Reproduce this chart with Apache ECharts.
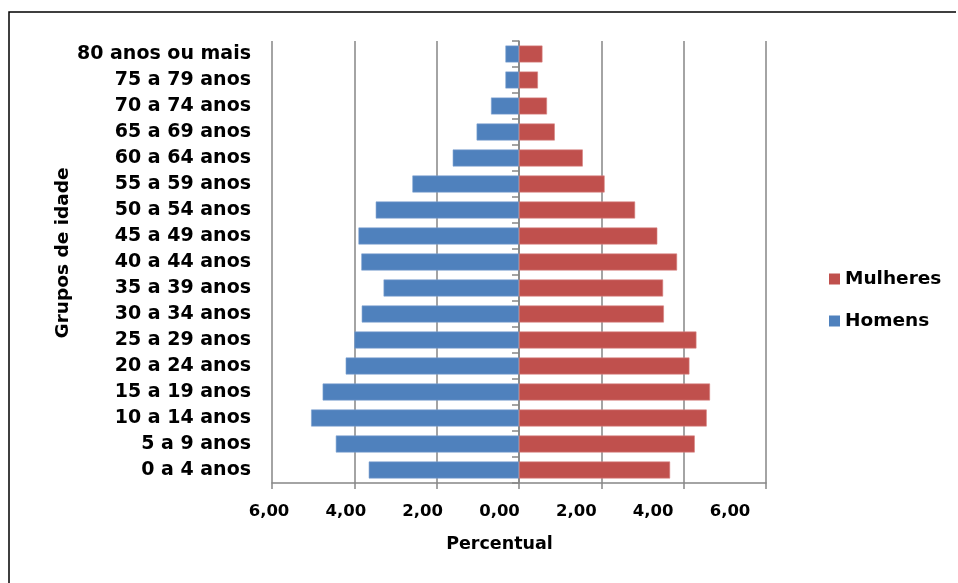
<!DOCTYPE html>
<html>
<head>
<meta charset="utf-8">
<script src="https://cdn.jsdelivr.net/npm/echarts@6/dist/echarts.min.js"></script>
<style>
  html, body { margin: 0; padding: 0; background: #fff; }
  #chart { width: 958px; height: 583px; }
</style>
</head>
<body>
<div id="chart"></div>
<script>
// Age groups, from youngest (bottom) to oldest (top)
const grupos = [
  '0 a 4 anos', '5 a 9 anos', '10 a 14 anos', '15 a 19 anos', '20 a 24 anos',
  '25 a 29 anos', '30 a 34 anos', '35 a 39 anos', '40 a 44 anos', '45 a 49 anos',
  '50 a 54 anos', '55 a 59 anos', '60 a 64 anos', '65 a 69 anos', '70 a 74 anos',
  '75 a 79 anos', '80 anos ou mais'
];
// Share of the population (%) per age group
const homens = [3.65, 4.45, 5.05, 4.77, 4.21, 4.00, 3.82, 3.29, 3.83, 3.90, 3.48, 2.59, 1.61, 1.03, 0.68, 0.33, 0.33];
const mulheres = [3.67, 4.27, 4.56, 4.64, 4.14, 4.31, 3.52, 3.50, 3.84, 3.36, 2.82, 2.08, 1.55, 0.87, 0.68, 0.46, 0.57];
// Percent axis ticks
const eixoMin = -6, eixoMax = 6, eixoPasso = 2;

const FONT = 'DejaVu Sans';
const GRAY = '#868686';
const fmt = v => Math.abs(v).toFixed(2).replace('.', ',');

const chart = echarts.init(document.getElementById('chart'), null, { renderer: 'canvas' });

chart.setOption({
  backgroundColor: '#ffffff',
  animation: false,
  grid: [
    // plot area with the bars
    { left: 272, right: 192, top: 41, bottom: 100, containLabel: false },
    // band carrying the percent tick labels and axis title
    { left: 269, width: 461, top: 41, bottom: 100, containLabel: false }
  ],
  legend: {
    data: ['Mulheres', 'Homens'],
    orient: 'vertical',
    left: 829,
    top: 269,
    padding: 0,
    itemWidth: 11,
    itemHeight: 11,
    itemGap: 22,
    icon: 'rect',
    itemStyle: { borderWidth: 0 },
    textStyle: { fontFamily: FONT, fontWeight: 'bold', fontSize: 18.5, color: '#000', lineHeight: 20 }
  },
  xAxis: [
    {
      type: 'value',
      gridIndex: 0,
      min: eixoMin,
      max: eixoMax,
      interval: eixoPasso,
      axisLine: { show: true, onZero: false, lineStyle: { color: GRAY, width: 1.5 } },
      axisTick: { show: true, length: 6, lineStyle: { color: GRAY, width: 1.5 } },
      axisLabel: { show: false },
      splitLine: { show: true, lineStyle: { color: GRAY, width: 1.5 } }
    },
    {
      type: 'value',
      gridIndex: 1,
      min: eixoMin,
      max: eixoMax,
      interval: eixoPasso,
      name: 'Percentual',
      nameLocation: 'middle',
      nameGap: 52,
      nameTextStyle: { fontFamily: FONT, fontWeight: 'bold', fontSize: 17.5, color: '#000' },
      axisLine: { show: false, onZero: false },
      axisTick: { show: false },
      axisLabel: { formatter: fmt, margin: 20, fontFamily: FONT, fontWeight: 'bold', fontSize: 16.5, color: '#000' },
      splitLine: { show: false }
    }
  ],
  yAxis: [
    {
      type: 'category',
      gridIndex: 0,
      data: grupos,
      position: 'left',
      axisLine: { show: false, onZero: false },
      axisTick: { show: false },
      axisLabel: { margin: 21, fontFamily: FONT, fontWeight: 'bold', fontSize: 19, color: '#000' }
    },
    {
      type: 'category',
      gridIndex: 0,
      data: grupos,
      position: 'left',
      axisLine: { show: true, onZero: true, lineStyle: { color: GRAY, width: 1.5 } },
      axisTick: { show: true, length: 7, inside: false, lineStyle: { color: GRAY, width: 1.5 } },
      axisLabel: { show: false }
    },
    {
      type: 'value',
      gridIndex: 1,
      show: false
    }
  ],
  graphic: [
    {
      type: 'polyline',
      shape: { points: [[9, 600], [9, 12], [956, 12]] },
      style: { fill: 'none', stroke: '#000', lineWidth: 1.5 },
      silent: true,
      z: -1
    },
    {
      type: 'text',
      x: 63,
      y: 253,
      rotation: Math.PI / 2,
      style: {
        text: 'Grupos de idade',
        fontFamily: FONT,
        fontWeight: 'bold',
        fontSize: 18.5,
        fill: '#000',
        align: 'center',
        verticalAlign: 'middle'
      }
    }
  ],
  series: [
    {
      name: 'Homens',
      type: 'bar',
      xAxisIndex: 0,
      yAxisIndex: 0,
      data: homens.map(v => -v),
      barGap: '-100%',
      barCategoryGap: '35%',
      itemStyle: { color: '#4F81BD', borderColor: '#7EA3D2', borderWidth: 0.6 },
      z: 3
    },
    {
      name: 'Mulheres',
      type: 'bar',
      xAxisIndex: 0,
      yAxisIndex: 0,
      data: mulheres,
      barGap: '-100%',
      barCategoryGap: '35%',
      itemStyle: { color: '#C0504D', borderColor: '#D98583', borderWidth: 0.6 },
      z: 3
    }
  ]
});
</script>
</body>
</html>
